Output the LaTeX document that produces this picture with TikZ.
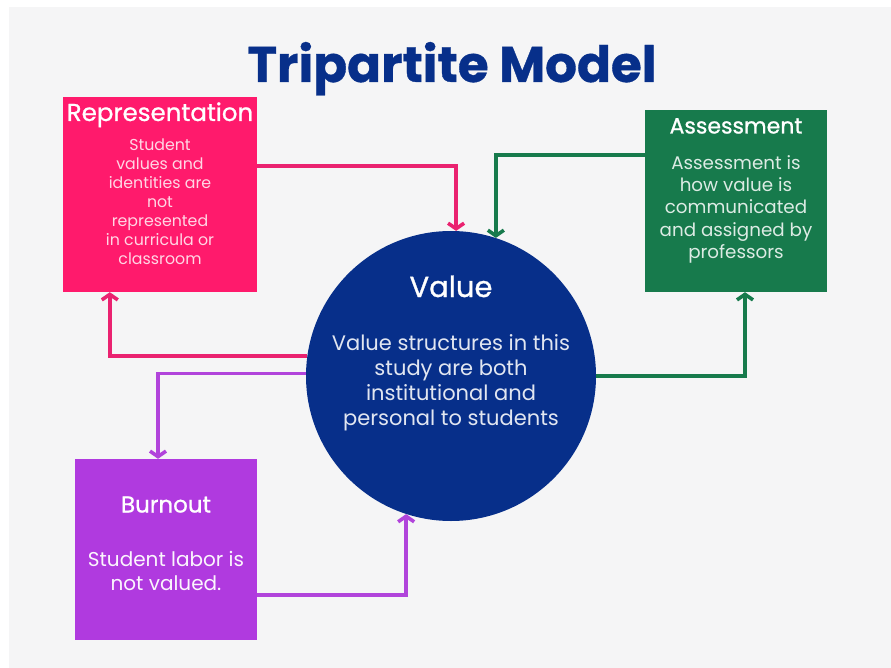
\documentclass[tikz,border=0pt]{standalone}
\usepackage{fontspec}
\setmainfont{Poppins}
\newfontfamily\headfont{Poppins}[FakeBold=0.9]
\newfontfamily\titlefont{Poppins}[BoldFeatures={FakeBold=0.7}]
\usetikzlibrary{arrows.meta,calc,backgrounds}

\definecolor{pagebg}{HTML}{F5F5F6}
\definecolor{navy}{HTML}{072F8A}
\definecolor{rose}{HTML}{FF1A6C}
\definecolor{roseline}{HTML}{EA2270}
\definecolor{forest}{HTML}{177A4C}
\definecolor{violet}{HTML}{B03ADF}
\definecolor{violetline}{HTML}{B144DB}

\tikzset{
  card/.style={draw=none, rectangle, inner sep=0pt},
  hub/.style={draw=none, circle, fill=navy, minimum size=290pt, inner sep=0pt},
  headtext/.style={text=white, anchor=base, inner sep=0pt},
  bodytext/.style={align=center, inner sep=0pt},
  link/.style={line width=3.6pt, -{Straight Barb[length=5.5pt,width=16pt]}},
}

\begin{document}
\begin{tikzpicture}[x=1pt,y=-1pt]
  % page and backdrop
  \useasboundingbox (0,0) rectangle (891,668);
  \fill[white] (0,0) rectangle (891,668);
  \fill[pagebg] (9,7) rectangle (891,668);

  % title
  \node[text=navy, anchor=base, inner sep=0pt, font=\titlefont\fontsize{50}{54}\selectfont\bfseries] (title) at (452,82) {Tripartite Model};

  % boxes
  \node[card, fill=rose, minimum width=194pt, minimum height=195pt] (rep) at (160,194.5) {};
  \node[card, fill=forest, minimum width=182pt, minimum height=182pt] (ass) at (736,201) {};
  \node[card, fill=violet, minimum width=182pt, minimum height=181pt] (bur) at (166,549.5) {};
  \node[hub] (val) at (451,376) {};

  % box texts
  \node[headtext, font=\headfont\fontsize{24.5}{28}\selectfont] (reptitle) at (160,121) {Representation};
  \node[bodytext, text=white!82!rose, font=\fontsize{15.8}{19}\selectfont] (repbody) at (160,201.5)
    {Student\\values and\\identities are\\not\\represented\\in curricula or\\classroom};

  \node[headtext, font=\headfont\fontsize{22}{26}\selectfont] (asstitle) at (736,133.5) {Assessment};
  \node[bodytext, text=white!85!forest, font=\fontsize{18.3}{22.25}\selectfont] (assbody) at (736,209.3)
    {Assessment is\\how value is\\communicated\\and assigned by\\professors};

  \node[headtext, font=\headfont\fontsize{29}{32}\selectfont] (valtitle) at (451,297) {Value};
  \node[bodytext, text=white!88!navy, font=\fontsize{21}{25}\selectfont] (valbody) at (451,382.5)
    {Value structures in this\\study are both\\institutional and\\personal to students};

  \node[headtext, font=\headfont\fontsize{23}{26}\selectfont] (burtitle) at (166,512.5) {Burnout};
  \node[bodytext, text=white!95!violet, font=\fontsize{20}{24}\selectfont] (burbody) at (166,571)
    {Student labor is\\not valued.};

  % connectors
  \draw[link, roseline] ($(rep.east)+(0,-28.5)$) -| (val.88);
  \draw[link, roseline] (val.172.5) -| ($(rep.south west)+(47,0)$);
  \draw[link, forest] ($(ass.west)+(0,-46)$) -| (val.72);
  \draw[link, forest] (val.0) -| ($(ass.south)+(9,0)$);
  \draw[link, violetline] (val.179) -| ($(bur.north)+(-8,0)$);
  \draw[link, violetline] ($(bur.east)+(0,45.5)$) -| (val.252);
\end{tikzpicture}
\end{document}
